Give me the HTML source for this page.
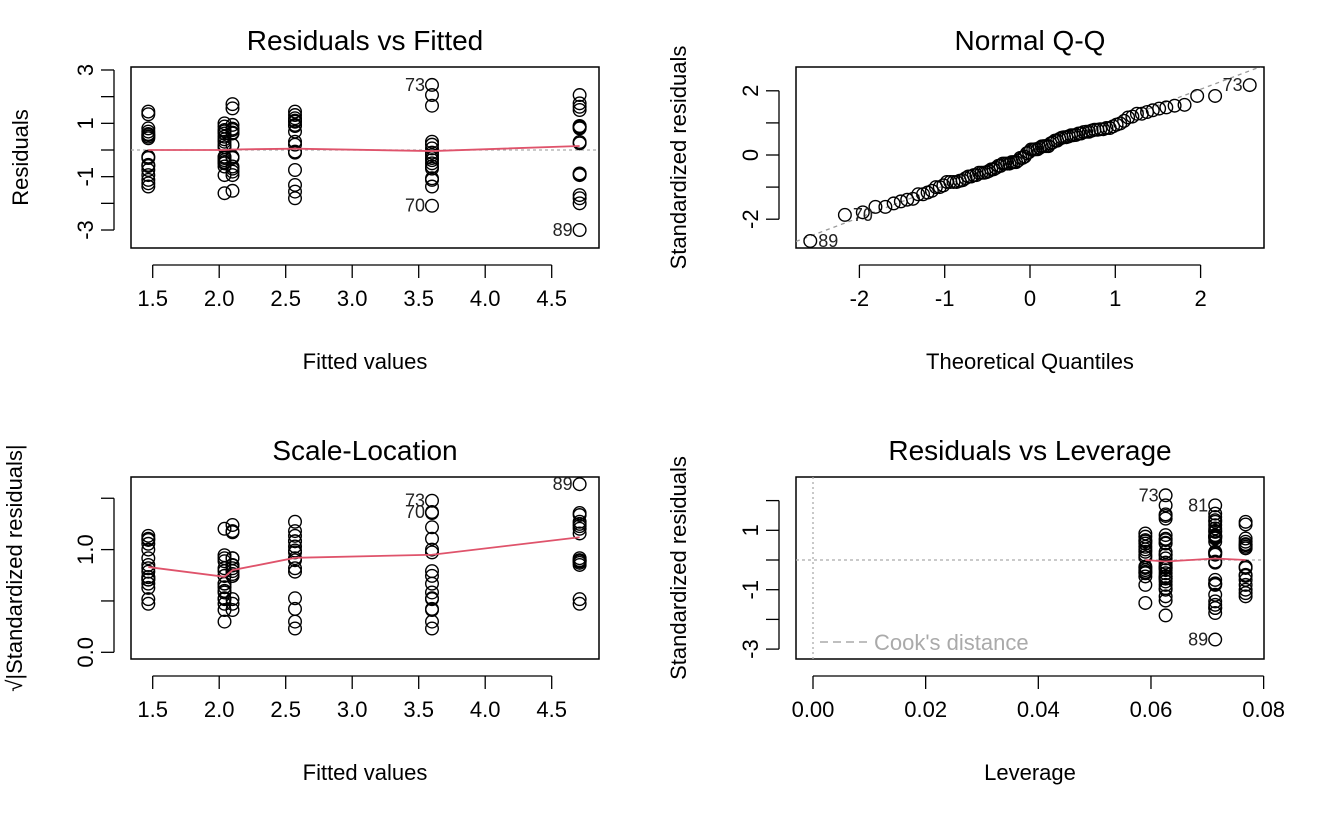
<!DOCTYPE html>
<html><head><meta charset="utf-8"><style>
html,body{margin:0;padding:0;background:#fff}
svg{display:block;font-family:"Liberation Sans",Arial,sans-serif}
</style></head><body>
<svg id="c" width="1328" height="819" viewBox="0 0 1328 819" xmlns="http://www.w3.org/2000/svg"></svg>
<script>
// ---- data ----
const fittedGroups = [1.467, 2.04, 2.10, 2.57, 3.60, 4.71];
const leverageGroups = [0.0768, 0.0590, 0.0626, 0.0714, 0.0626, 0.0714];
const residG1 = [1.44,1.34,0.81,0.69,0.56,0.44,-0.25,-0.56,-0.75,-0.94,-1.12,-1.25,-1.37,0.6,0.5,-0.3,-0.6];
const residG2 = [1.0,0.88,0.75,0.62,0.5,0.31,0.19,-0.25,-0.38,-0.5,-0.62,-0.94,-1.62,0.7,0.4,0.1,-0.3,-0.45];
const residG3 = [1.72,1.56,0.94,0.75,0.62,0.19,-0.25,-0.62,-0.81,-0.94,-1.53,0.8,0.65,-0.3,-0.7];
const residG4 = [1.44,1.31,1.19,1.06,0.94,0.69,0.31,-0.06,-0.75,-1.31,-1.56,-1.81,1.1,0.9,0.2,-0.1];
const residG5 = [2.44,2.06,1.66,0.31,0.06,-0.19,-0.38,-0.62,-1.06,-1.12,-1.37,-2.09,0.2,-0.1,-0.3,-0.5,-0.7];
const residG6 = [2.06,1.75,1.62,1.5,0.88,0.81,0.25,-0.88,-0.94,-1.69,-1.81,-2.0,-3.0,0.9,0.85,0.3,-0.9];
const residualSigma = 1.12;
const smoothResid = [0, 0, 0.02, 0.05, -0.04, 0.15];
const smoothScale = [0.83, 0.735, 0.80, 0.92, 0.95, 1.12];
const leverageCats = [0.0590, 0.0626, 0.0714, 0.0768];
const smoothLev = [0.0, -0.05, 0.05, 0.0];
const xTicks1 = ["1.5","2.0","2.5","3.0","3.5","4.0","4.5"];
const yTicks1 = ["3","1","-1","-3"];
const xTicksQQ = ["-2","-1","0","1","2"];
const yTicksQQ = ["2","0","-2"];
const yTicksSL = ["0.0","1.0"];
const xTicksLev = ["0.00","0.02","0.04","0.06","0.08"];
const yTicksLev = ["1","-1","-3"];
const labelled = [{g:4,i:0,t:"73"},{g:4,i:11,t:"70"},{g:5,i:12,t:"89"}];

const NS="http://www.w3.org/2000/svg";
const svg=document.getElementById('c');
function el(tag,attrs,parent){const e=document.createElementNS(NS,tag);for(const k in attrs)e.setAttribute(k,attrs[k]);(parent||svg).appendChild(e);return e;}
function txt(s,attrs,parent){const e=el('text',attrs,parent);e.textContent=s;return e;}

const groups=[residG1,residG2,residG3,residG4,residG5,residG6];
const pts=[];
groups.forEach((arr,g)=>arr.forEach((r,i)=>pts.push({g,i,f:fittedGroups[g],r,s:r/residualSigma,h:leverageGroups[g]})));

function panel(name,x0,y0,x1,y1,title,xt,yt,ytX){
  const g=el('g',{});
  
  
  const b=el('rect',{x:x0,y:y0,width:x1-x0,height:y1-y0,fill:'none',stroke:'#000','stroke-width':1.5},g);
  
  
  const t=txt(title,{x:(x0+x1)/2,y:y0-17,'text-anchor':'middle','font-size':28},g);
  
  
  const a=txt(xt,{x:(x0+x1)/2,y:y1+121,'text-anchor':'middle','font-size':22},g);
  
  
  const yc=(y0+y1)/2;
  const b2=txt(yt,{x:ytX,y:yc,'text-anchor':'middle','font-size':22,transform:`rotate(-90 ${ytX} ${yc})`},g);
  
  
  return g;
}
function xAxis(g,y1,xs,labels,xf,vals){
  el('line',{x1:xf(vals[0]),x2:xf(vals[vals.length-1]),y1:y1+17,y2:y1+17,stroke:'#000','stroke-width':1.3},g);
  vals.forEach((v,i)=>{
    el('line',{x1:xf(v),x2:xf(v),y1:y1+17,y2:y1+30,stroke:'#000','stroke-width':1.3},g);
    const t=txt(labels[i],{x:xf(v),y:y1+58,'text-anchor':'middle','font-size':22},g);
    
    
  });
}
function yAxis(g,x0,tickVals,labVals,labels,yf){
  el('line',{x1:x0-17,x2:x0-17,y1:yf(tickVals[0]),y2:yf(tickVals[tickVals.length-1]),stroke:'#000','stroke-width':1.3},g);
  tickVals.forEach(v=>el('line',{x1:x0-30,x2:x0-17,y1:yf(v),y2:yf(v),stroke:'#000','stroke-width':1.3},g));
  labVals.forEach((v,i)=>{
    const X=x0-38,Y=yf(v);
    const t=txt(labels[i],{x:X,y:Y,'text-anchor':'middle','font-size':22,transform:`rotate(-90 ${X} ${Y})`},g);
    
    
  });
}
function pt(g,x,y){
  const c=el('circle',{cx:x,cy:y,r:6.3,fill:'none',stroke:'#000','stroke-width':1.4},g);
  
  
}
function lab(g,x,y,s,right){
  const t=txt(s,{x:right?x+8:x-7,y:y+6,'text-anchor':right?'start':'end','font-size':18,fill:'#222'},g);
  
  
}
function polyline(g,xs,ys,name){
  const p=el('polyline',{points:xs.map((x,i)=>x+','+ys[i]).join(' '),fill:'none',stroke:'#DF536B','stroke-width':1.8},g);
  
  
}

// ---- Panel 1 ----
{
  const xf=v=>152.7+(v-1.5)*133, yf=v=>150-v*26.67;
  const g=panel('residuals-vs-fitted-panel',131,67,599,248,'Residuals vs Fitted','Fitted values','Residuals',28);
  xAxis(g,248,null,xTicks1,xf,xTicks1.map(Number));
  yAxis(g,131,[3,2,1,0,-1,-2,-3],yTicks1.map(Number),yTicks1,yf);
  const z=el('line',{x1:131,x2:599,y1:yf(0),y2:yf(0),stroke:'#aaa','stroke-dasharray':'3,3','stroke-width':1.3},g);
  
  
  pts.forEach(p=>pt(g,xf(p.f),yf(p.r)));
  polyline(g,fittedGroups.map(xf),smoothResid.map(yf),'smoother-line');
  labelled.forEach(l=>{const p=pts.find(q=>q.g===l.g&&q.i===l.i);lab(g,xf(p.f),yf(p.r),l.t,false);});
}
// ---- Panel 2 QQ ----
function qnorm(p){const a=[-39.6968302866538,220.946098424521,-275.928510446969,138.357751867269,-30.6647980661472,2.50662827745924],b=[-54.4760987982241,161.585836858041,-155.698979859887,66.8013118877197,-13.2806815528857],c=[-0.00778489400243029,-0.322396458041136,-2.40075827716184,-2.54973253934373,4.37466414146497,2.93816398269878],d=[0.00778469570904146,0.32246712907004,2.445134137143,3.75440866190742];
 let q,r;if(p<0.02425){q=Math.sqrt(-2*Math.log(p));return(((((c[0]*q+c[1])*q+c[2])*q+c[3])*q+c[4])*q+c[5])/((((d[0]*q+d[1])*q+d[2])*q+d[3])*q+1);}
 if(p>1-0.02425){q=Math.sqrt(-2*Math.log(1-p));return-(((((c[0]*q+c[1])*q+c[2])*q+c[3])*q+c[4])*q+c[5])/((((d[0]*q+d[1])*q+d[2])*q+d[3])*q+1);}
 q=p-0.5;r=q*q;return(((((a[0]*r+a[1])*r+a[2])*r+a[3])*r+a[4])*r+a[5])*q/(((((b[0]*r+b[1])*r+b[2])*r+b[3])*r+b[4])*r+1);}
{
  const xf=v=>1030+v*85.3, yf=v=>155-v*32.1;
  const g=panel('normal-qq-panel',796,67,1264,248,'Normal Q-Q','Theoretical Quantiles','Standardized residuals',686);
  xAxis(g,248,null,xTicksQQ,xf,xTicksQQ.map(Number));
  yAxis(g,796,[2,1,0,-1,-2],yTicksQQ.map(Number),yTicksQQ,yf);
  const sorted=pts.slice().sort((a,b)=>a.s-b.s);
  const n=sorted.length,aa=n<=10?3/8:0.5;
  sorted.forEach((p,k)=>{p.q=qnorm((k+1-aa)/(n+1-2*aa));});
  const s1=sorted[Math.floor(n*0.25)].s,s3=sorted[Math.floor(n*0.75)].s,q1=qnorm(0.25),q3=qnorm(0.75);
  const slope=(s3-s1)/(q3-q1),ic=s1-slope*q1;
  const cp=el('clipPath',{id:'qqclip'},g);el('rect',{x:796,y:67,width:468,height:181},cp);
  const L=el('line',{x1:796,x2:1264,y1:yf(ic+slope*(-234/85.3)),y2:yf(ic+slope*(234/85.3)),stroke:'#999','stroke-dasharray':'4,4','stroke-width':1.3,'clip-path':'url(#qqclip)'},g);
  
  
  sorted.forEach(p=>pt(g,xf(p.q),yf(p.s)));
  labelled.forEach(l=>{const p=sorted.find(q=>q.g===l.g&&q.i===l.i);lab(g,xf(p.q),yf(p.s),l.t,p.s<0);});
}
// ---- Panel 3 ----
{
  const xf=v=>152.7+(v-1.5)*133, yf=v=>652.3-v*102.7;
  const g=panel('scale-location-panel',131,477,599,659,'Scale-Location','Fitted values','√|Standardized residuals|',22);
  xAxis(g,659,null,xTicks1,xf,xTicks1.map(Number));
  yAxis(g,131,[0,0.5,1,1.5],yTicksSL.map(Number),yTicksSL,yf);
  pts.forEach(p=>pt(g,xf(p.f),yf(Math.sqrt(Math.abs(p.s)))));
  polyline(g,fittedGroups.map(xf),smoothScale.map(yf),'smoother-line');
  labelled.forEach(l=>{const p=pts.find(q=>q.g===l.g&&q.i===l.i);lab(g,xf(p.f),yf(Math.sqrt(Math.abs(p.s))),l.t,false);});
}
// ---- Panel 4 ----
{
  const xf=v=>813+v*5633, yf=v=>560-v*29.7;
  const g=panel('residuals-vs-leverage-panel',796,477,1264,659,'Residuals vs Leverage','Leverage','Standardized residuals',686);
  xAxis(g,659,null,xTicksLev,xf,xTicksLev.map(Number));
  yAxis(g,796,[2,1,0,-1,-2,-3],yTicksLev.map(Number),yTicksLev,yf);
  const v=el('line',{x1:xf(0),x2:xf(0),y1:477,y2:659,stroke:'#aaa','stroke-dasharray':'2,3','stroke-width':1.3},g);
  
  
  const h=el('line',{x1:796,x2:1264,y1:yf(0),y2:yf(0),stroke:'#aaa','stroke-dasharray':'3,3','stroke-width':1.3},g);
  
  
  pts.forEach(p=>pt(g,xf(p.h),yf(p.s)));
  polyline(g,leverageCats.map(xf),smoothLev.map(yf),'smoother-line');
  [{g:4,i:0,t:"73"},{g:5,i:0,t:"81"},{g:5,i:12,t:"89"}].forEach(l=>{const p=pts.find(q=>q.g===l.g&&q.i===l.i);lab(g,xf(p.h),yf(p.s),l.t,false);});
  const lg=el('g',{},g);
  
  
  el('line',{x1:820,x2:868,y1:642,y2:642,stroke:'#aaa','stroke-dasharray':'8,5','stroke-width':1.5},lg);
  txt("Cook's distance",{x:874,y:650,'font-size':22,fill:'#aaa'},lg);
}
</script>
</body></html>
